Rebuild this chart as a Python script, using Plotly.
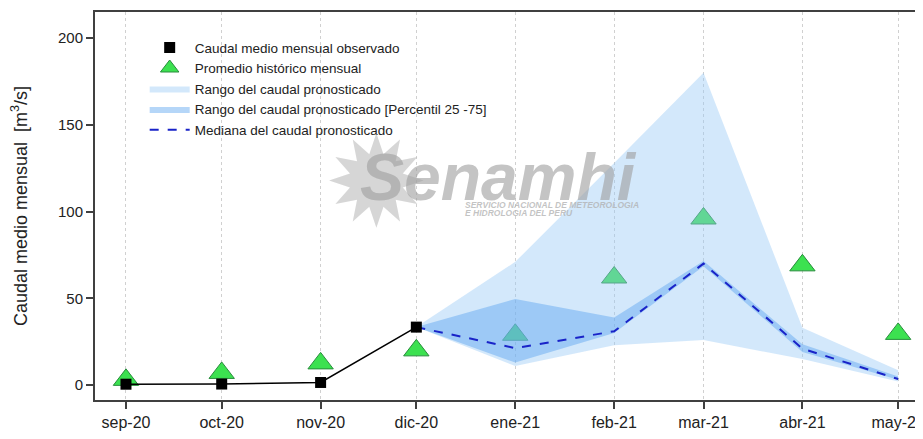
import plotly.graph_objects as go

# months (first day) and their labels
months = ["2020-09-01", "2020-10-01", "2020-11-01", "2020-12-01", "2021-01-01",
          "2021-02-01", "2021-03-01", "2021-04-01", "2021-05-01"]
month_labels = ["sep-20", "oct-20", "nov-20", "dic-20", "ene-21",
                "feb-21", "mar-21", "abr-21", "may-21"]

# observed monthly mean flow (sep-20 .. dic-20)
obs_months = months[:4]
observado = [0.5, 0.6, 1.5, 33.4]

# historical monthly average
historico = [3, 7, 12.5, 20, 29, 62, 96, 69, 29.5]

# forecast (dic-20 .. may-21)
fc_months = months[3:]
mediana = [33.4, 21.3, 31, 70, 21, 3.5]
p25 = [33.4, 13, 30, 68.5, 19, 3]
p75 = [33.4, 49.6, 39, 71.5, 23.5, 5]
rango_min = [33.4, 11, 23, 26, 15, 2]
rango_max = [33.4, 71, 128, 180, 33, 8.5]

fig = go.Figure()

# historical average triangles (under the bands)
fig.add_trace(go.Scatter(
    x=months, y=historico, mode="markers", name="Promedio histórico mensual",
    marker=dict(symbol="triangle-up", size=22, color="rgb(60,225,80)",
                line=dict(color="rgb(40,140,60)", width=1)),
    legendrank=2
))

# full forecast range
fig.add_trace(go.Scatter(
    x=fc_months + fc_months[::-1], y=rango_max + rango_min[::-1],
    fill="toself", mode="lines", line=dict(width=0),
    fillcolor="rgba(150,200,245,0.42)", name="Rango del caudal pronosticado",
    legendrank=3
))

# P25-P75 band
fig.add_trace(go.Scatter(
    x=fc_months + fc_months[::-1], y=p75 + p25[::-1],
    fill="toself", mode="lines", line=dict(width=0),
    fillcolor="rgba(90,165,240,0.45)",
    name="Rango del caudal pronosticado [Percentil 25 -75]",
    legendrank=4
))

# median
fig.add_trace(go.Scatter(
    x=fc_months, y=mediana, mode="lines", name="Mediana del caudal pronosticado",
    line=dict(color="rgb(25,35,200)", width=2, dash="dash"),
    legendrank=5
))

# observed: line without legend entry, squares with legend entry
fig.add_trace(go.Scatter(
    x=obs_months, y=observado, mode="lines", showlegend=False,
    line=dict(color="black", width=1.5), hoverinfo="skip"
))
fig.add_trace(go.Scatter(
    x=obs_months, y=observado, mode="markers",
    name="Caudal medio mensual observado",
    marker=dict(symbol="square", size=11, color="black"),
    legendrank=1
))

# watermark
wm_grey = "rgba(175,175,175,0.75)"
fig.add_annotation(x=0.34, y=0.56, xref="paper", yref="paper", text="✹",
                   showarrow=False, font=dict(size=125, color="rgba(180,180,180,0.55)",
                                              family="DejaVu Sans"))
fig.add_annotation(x=0.487, y=0.575, xref="paper", yref="paper",
                   text="<b><i>Senamhi</i></b>", showarrow=False,
                   font=dict(size=66, color="rgba(160,160,160,0.62)",
                             family="Liberation Sans"))
fig.add_annotation(x=0.445, y=0.5026, xref="paper", yref="paper", xanchor="left",
                   text="<b><i>SERVICIO NACIONAL DE METEOROLOGIA</i></b>",
                   showarrow=False, font=dict(size=8.5, color=wm_grey,
                                              family="Liberation Sans"))
fig.add_annotation(x=0.445, y=0.481, xref="paper", yref="paper", xanchor="left",
                   text="<b><i>E HIDROLOGIA DEL PERU</i></b>",
                   showarrow=False, font=dict(size=8.5, color=wm_grey,
                                              family="Liberation Sans"))

# the page adds an 8px body margin, so the figure is shrunk and shifted
fig.update_layout(
    width=915, height=423,
    margin=dict(l=87, r=0, t=4, b=31, autoexpand=False),
    paper_bgcolor="white", plot_bgcolor="white",
    font=dict(family="Liberation Sans, Arial", color="#222", size=14),
    showlegend=True,
    legend=dict(x=0.06, y=0.948, xanchor="left", yanchor="top",
                bgcolor="rgba(0,0,0,0)", font=dict(size=13.5, color="#222"),
                itemwidth=40, tracegroupgap=0),
    xaxis=dict(
        type="date", range=["2020-08-22 07:00", "2021-05-08 19:00"],
        tickvals=months, ticktext=month_labels, automargin=False,
        ticks="outside", ticklen=7, tickwidth=2, tickcolor="#404040",
        ticklabeloverflow="allow",
        showline=True, linecolor="#404040", linewidth=2, mirror=True,
        showgrid=True, gridcolor="#d0d0d0", griddash="dot", gridwidth=1,
        tickfont=dict(size=16, color="#222"), zeroline=False,
    ),
    yaxis=dict(
        range=[-8.6, 215], tickvals=[0, 50, 100, 150, 200], automargin=False,
        ticks="outside", ticklen=7, tickwidth=2, tickcolor="#404040",
        showline=True, linecolor="#404040", linewidth=2,
        showgrid=False, zeroline=False,
        tickfont=dict(size=15, color="#222"),
        title=dict(text="Caudal medio mensual  [m<sup>3</sup>/s]",
                   font=dict(size=18, color="#222"), standoff=28),
    ),
)

fig.write_html("out.html")
